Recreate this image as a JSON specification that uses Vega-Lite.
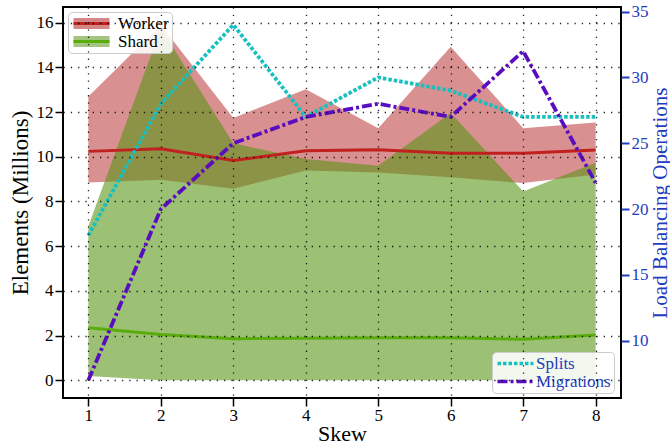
{
  "$schema": "https://vega.github.io/schema/vega-lite/v6.json",
  "width": 558,
  "height": 391,
  "autosize": "none",
  "padding": {"left": 63, "top": 7, "right": 49, "bottom": 50},
  "background": "white",
  "config": {
    "font": "Liberation Serif",
    "view": {"stroke": "black", "strokeWidth": 2},
    "axis": {"titleFontWeight": "normal", "labelFont": "Liberation Serif", "titleFont": "Liberation Serif"},
    "legend": {"labelFont": "Liberation Serif"}
  },
  "datasets": {
    "elements": [
      {"series": "Worker", "skew": 1, "lo": 8.85, "mid": 10.24, "hi": 12.69},
      {"series": "Worker", "skew": 2, "lo": 8.97, "mid": 10.36, "hi": 15.9},
      {"series": "Worker", "skew": 3, "lo": 8.57, "mid": 9.83, "hi": 11.73},
      {"series": "Worker", "skew": 4, "lo": 9.38, "mid": 10.27, "hi": 13.02},
      {"series": "Worker", "skew": 5, "lo": 9.3, "mid": 10.31, "hi": 11.28},
      {"series": "Worker", "skew": 6, "lo": 9.08, "mid": 10.16, "hi": 14.92},
      {"series": "Worker", "skew": 7, "lo": 8.82, "mid": 10.16, "hi": 11.28},
      {"series": "Worker", "skew": 8, "lo": 9.2, "mid": 10.3, "hi": 11.53},
      {"series": "Shard", "skew": 1, "lo": 0.19, "mid": 2.35, "hi": 6.9},
      {"series": "Shard", "skew": 2, "lo": 0, "mid": 2.05, "hi": 15.75},
      {"series": "Shard", "skew": 3, "lo": 0, "mid": 1.86, "hi": 10.6},
      {"series": "Shard", "skew": 4, "lo": 0, "mid": 1.88, "hi": 9.9},
      {"series": "Shard", "skew": 5, "lo": 0, "mid": 1.9, "hi": 9.6},
      {"series": "Shard", "skew": 6, "lo": 0, "mid": 1.9, "hi": 11.96},
      {"series": "Shard", "skew": 7, "lo": 0, "mid": 1.83, "hi": 8.45},
      {"series": "Shard", "skew": 8, "lo": 0, "mid": 2.02, "hi": 9.73}
    ],
    "ops": [
      {"op": "Splits", "skew": 1, "count": 18},
      {"op": "Splits", "skew": 2, "count": 28},
      {"op": "Splits", "skew": 3, "count": 34},
      {"op": "Splits", "skew": 4, "count": 27},
      {"op": "Splits", "skew": 5, "count": 30},
      {"op": "Splits", "skew": 6, "count": 29},
      {"op": "Splits", "skew": 7, "count": 27},
      {"op": "Splits", "skew": 8, "count": 27},
      {"op": "Migrations", "skew": 1, "count": 7},
      {"op": "Migrations", "skew": 2, "count": 20},
      {"op": "Migrations", "skew": 3, "count": 25},
      {"op": "Migrations", "skew": 4, "count": 27},
      {"op": "Migrations", "skew": 5, "count": 28},
      {"op": "Migrations", "skew": 6, "count": 27},
      {"op": "Migrations", "skew": 7, "count": 32},
      {"op": "Migrations", "skew": 8, "count": 22}
    ]
  },
  "layer": [
    {
      "data": {"name": "elements"},
      "encoding": {
        "x": {
          "field": "skew", "type": "quantitative",
          "scale": {"domain": [0.65, 8.35], "nice": false, "zero": false},
          "axis": {
            "title": "Skew", "values": [1, 2, 3, 4, 5, 6, 7, 8], "format": "d",
            "labelFontSize": 17, "titleFontSize": 22, "labelColor": "black", "titleColor": "black",
            "tickColor": "black", "tickSize": 8, "tickWidth": 1.5, "domain": false,
            "grid": true, "gridColor": "black", "gridDash": [1.3, 6], "gridWidth": 1.3, "gridOpacity": 0.85,
            "labelPadding": 1, "titlePadding": 0, "zindex": 1
          }
        }
      },
      "layer": [
        {
          "transform": [{"filter": "datum.series === 'Worker'"}],
          "mark": {"type": "area", "fillOpacity": 0.5},
          "encoding": {
            "y": {
              "field": "lo", "type": "quantitative",
              "scale": {"domain": [-0.795, 16.7], "nice": false, "zero": false},
              "axis": {
                "title": "Elements (Millions)", "values": [0, 2, 4, 6, 8, 10, 12, 14, 16],
                "labelFontSize": 17, "titleFontSize": 23, "labelColor": "black", "titleColor": "black",
                "tickColor": "black", "tickSize": 8, "tickWidth": 1.5, "domain": false,
                "grid": true, "gridColor": "black", "gridDash": [1.3, 6], "gridWidth": 1.3, "gridOpacity": 0.85,
                "labelPadding": 2, "titlePadding": 4, "zindex": 1
              }
            },
            "y2": {"field": "hi"},
            "fill": {
              "field": "series", "type": "nominal",
              "scale": {"domain": ["Worker", "Shard"], "range": ["#b22222", "#5a9618"]},
              "legend": {
                "orient": "none", "legendX": 5, "legendY": 5, "title": null,
                "symbolType": "M-3,-0.9H3V0.9H-3Z", "symbolSize": 144, "symbolOffset": 12,
                "symbolStrokeWidth": 0, "symbolOpacity": 0.55,
                "labelFontSize": 17, "labelOffset": 18, "labelColor": "black",
                "rowPadding": 0, "padding": 3,
                "fillColor": "rgba(255,255,255,0.88)", "strokeColor": "#cccccc", "cornerRadius": 4
              }
            }
          }
        },
        {
          "transform": [{"filter": "datum.series === 'Shard'"}],
          "mark": {"type": "area", "fillOpacity": 0.6},
          "encoding": {
            "y": {"field": "lo", "type": "quantitative"},
            "y2": {"field": "hi"},
            "fill": {"field": "series", "type": "nominal"}
          }
        },
        {
          "mark": {"type": "line", "strokeWidth": 3},
          "encoding": {
            "y": {"field": "mid", "type": "quantitative"},
            "stroke": {
              "field": "series", "type": "nominal", "sort": ["Worker", "Shard"],
              "scale": {"range": ["#c0201e", "#5aac0c"]},
              "legend": {
                "orient": "none", "legendX": 5, "legendY": 5, "title": null,
                "symbolType": "M-3,0H3", "symbolSize": 144, "symbolOffset": 12,
                "symbolStrokeWidth": 3, "symbolFillColor": "transparent",
                "labelFontSize": 17, "labelOffset": 18, "labelOpacity": 0,
                "rowPadding": 0, "padding": 3
              }
            }
          }
        }
      ]
    },
    {
      "data": {"name": "ops"},
      "encoding": {
        "x": {"field": "skew", "type": "quantitative"}
      },
      "layer": [
        {
          "mark": {"type": "line", "strokeWidth": 3.8},
          "encoding": {
            "y": {
              "field": "count", "type": "quantitative",
              "scale": {"domain": [5.65, 35.35], "nice": false, "zero": false},
              "axis": {
                "orient": "right", "title": "Load Balancing Operations", "values": [10, 15, 20, 25, 30, 35],
                "labelFontSize": 17, "titleFontSize": 21, "labelColor": "#1f3cc0", "titleColor": "#1f3cc0",
                "tickColor": "#1f3cc0", "tickSize": 8, "tickWidth": 2, "domain": false, "grid": false,
                "labelPadding": 2, "titlePadding": 1, "titleAngle": 270, "titleBaseline": "top"
              }
            },
            "color": {
              "field": "op", "type": "nominal",
              "scale": {"domain": ["Splits", "Migrations"], "range": ["#17bfbf", "#5a0dc0"]},
              "legend": {
                "orient": "none", "legendX": 429, "legendY": 345, "title": null,
                "symbolType": "M-3,0H3", "symbolSize": 144, "symbolOffset": 12,
                "symbolStrokeWidth": 3.5, "symbolFillColor": "transparent",
                "labelFontSize": 17, "labelOffset": 12, "labelColor": "#1f3cc0",
                "rowPadding": 0, "padding": 3,
                "fillColor": "rgba(255,255,255,0.88)", "strokeColor": "#cccccc", "cornerRadius": 4
              }
            },
            "strokeDash": {
              "field": "op", "type": "nominal",
              "scale": {"domain": ["Splits", "Migrations"], "range": [[3.5, 2], [10, 3, 3, 3]]},
              "legend": {
                "orient": "none", "legendX": 429, "legendY": 345, "title": null,
                "symbolType": "M-3,0H3", "symbolSize": 144, "symbolOffset": 12,
                "symbolStrokeWidth": 3.5, "symbolFillColor": "transparent",
                "labelFontSize": 17, "labelOffset": 12, "labelColor": "#1f3cc0",
                "rowPadding": 0, "padding": 3,
                "fillColor": "rgba(255,255,255,0.88)", "strokeColor": "#cccccc", "cornerRadius": 4
              }
            }
          }
        }
      ]
    }
  ],
  "resolve": {"scale": {"y": "independent"}}
}
